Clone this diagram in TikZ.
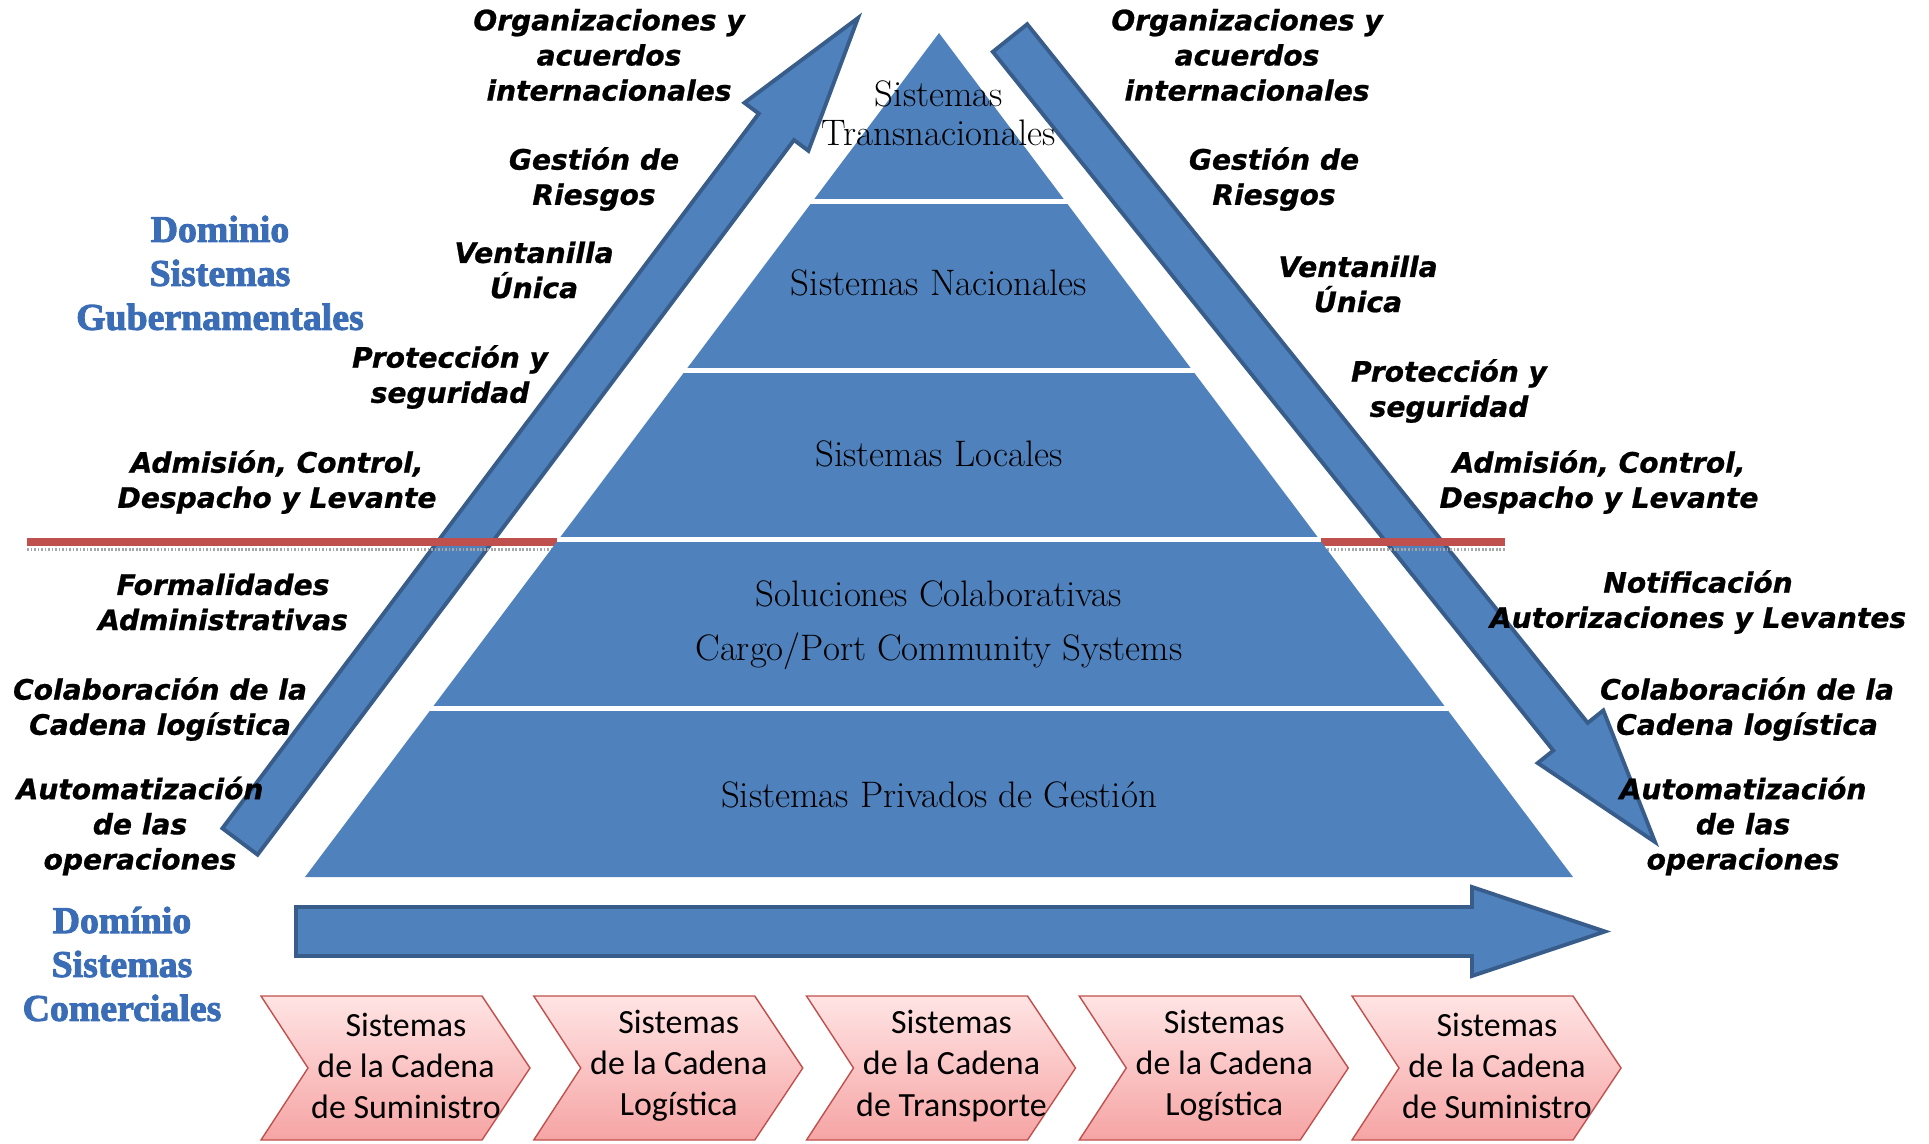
\documentclass[tikz,border=0pt]{standalone}
\usepackage{fontspec}
\usepackage{xcolor}
\usepackage{tikz}
\usetikzlibrary{positioning,calc}
\newfontfamily\lblfont{DejaVu Sans}[BoldItalicFeatures={FakeBold=0.8}]
\newfontfamily\chevfont{Carlito}
\newfontfamily\domfont{Liberation Serif}[BoldFeatures={FakeBold=2.5}]
\definecolor{pyrblue}{HTML}{4F81BD}
\definecolor{edgeblue}{HTML}{385D8A}
\definecolor{lineRed}{HTML}{C0504D}
\definecolor{domblue}{HTML}{3A6DB5}
\definecolor{chevtop}{HTML}{FFE4E4}
\definecolor{chevbot}{HTML}{F6A4A4}

\begin{document}
\begin{tikzpicture}[
    x=0.02cm, y=-0.02cm,
    pyrtext/.style={align=center, font=\fontsize{21}{22}\selectfont},
    lbl/.style={align=center, font=\lblfont\bfseries\itshape\fontsize{16}{20}\selectfont},
    dom/.style={align=center, text=domblue, font=\domfont\bfseries\fontsize{21.5}{25}\selectfont},
    chevtext/.style={align=center, font=\chevfont\fontsize{19.3}{23.4}\selectfont},
    bigarrow/.style={fill=pyrblue, draw=edgeblue, line width=2.2pt, line join=miter},
    chevron/.style={top color=chevtop, bottom color=chevbot, draw=lineRed, line width=0.8pt}
]
    \useasboundingbox (0,0) rectangle (1929,1143);

    % Arrows
    \draw[bigarrow] (222.4,828.3) -- (758.8,113.6) -- (744.4,102.8) -- (858,18)
        -- (808.4,150.8) -- (794,140) -- (257.6,854.7) -- cycle;
    \draw[bigarrow] (1027.2,24.2) -- (1587.7,722.9) -- (1603.3,710.4) -- (1655,842)
        -- (1537.7,763) -- (1553.3,750.5) -- (992.8,51.8) -- cycle;
    \draw[bigarrow] (296,907) -- (1472,907) -- (1472,887) -- (1605,931.5)
        -- (1472,976) -- (1472,956) -- (296,956) -- cycle;

    % Border line
    \draw[lineRed, line width=4.5pt] (27,542) -- (1505,542);
    \draw[gray!70, line width=2.2pt, dash pattern=on 1pt off 1pt] (27,549.5) -- (1505,549.5);

    % Pyramid
    \fill[pyrblue] (939,33) -- (1573,877) -- (305,877) -- cycle;
    \foreach \yy in {201.8,370.6,539.4,708.2}
        \draw[white, line width=2.8pt] ({939-0.7512*(\yy-33)-2},\yy) -- ({939+0.7512*(\yy-33)+2},\yy);

    \node[pyrtext] (trans) at (939,113) {Sistemas\\Transnacionales};
    \node[pyrtext] (nac) at (939,283) {Sistemas Nacionales};
    \node[pyrtext] (loc) at (939,454) {Sistemas Locales};
    \node[pyrtext] (sol) at (939,625) {Soluciones Colaborativas\\[8.7pt]Cargo/Port Community Systems};
    \node[pyrtext] (priv) at (939,795) {Sistemas Privados de Gestión};

    % Left labels
    \node[lbl] (org1) at (609,55) {Organizaciones y\\acuerdos\\internacionales};
    \node[lbl] (ges1) at (594,179) {Gestión de\\Riesgos};
    \node[lbl] (ven1) at (534,270) {Ventanilla\\Única};
    \node[lbl] (pro1) at (450,377) {Protección y\\seguridad};
    \node[lbl] (adm1) at (277,482) {Admisión, Control,\\Despacho y Levante};
    \node[lbl] (for1) at (223,602) {Formalidades\\Administrativas};
    \node[lbl] (col1) at (160,709) {Colaboración de la\\Cadena logística};
    \node[lbl] (aut1) at (140,826) {Automatización\\de las\\operaciones};

    % Right labels
    \node[lbl] (org2) at (1247,55) {Organizaciones y\\acuerdos\\internacionales};
    \node[lbl] (ges2) at (1274,179) {Gestión de\\Riesgos};
    \node[lbl] (ven2) at (1358,284) {Ventanilla\\Única};
    \node[lbl] (pro2) at (1449,391) {Protección y\\seguridad};
    \node[lbl] (adm2) at (1599,482) {Admisión, Control,\\Despacho y Levante};
    \node[lbl] (not2) at (1698,602) {Notificación\\Autorizaciones y Levantes};
    \node[lbl] (col2) at (1747,709) {Colaboración de la\\Cadena logística};
    \node[lbl] (aut2) at (1743,826) {Automatización\\de las\\operaciones};

    % Domains
    \node[dom] (domgob) at (220,273) {Dominio\\Sistemas\\Gubernamentales};
    \node[dom] (domcom) at (122,964) {Domínio\\Sistemas\\Comerciales};

    % Chain systems
    \foreach \i/\last in {0/de Suministro, 1/Logística, 2/de Transporte, 3/Logística, 4/de Suministro} {
        \shade[chevron] ({261+272.75*\i},996) -- ({261+272.75*\i+221},996) -- ({261+272.75*\i+269},1068)
            -- ({261+272.75*\i+221},1140) -- ({261+272.75*\i},1140) -- ({261+272.75*\i+47},1068) -- cycle;
        \node[chevtext] (chev\i) at ({261+272.75*\i+145},1066) {Sistemas\\de la Cadena\\\last};
    }
\end{tikzpicture}
\end{document}
